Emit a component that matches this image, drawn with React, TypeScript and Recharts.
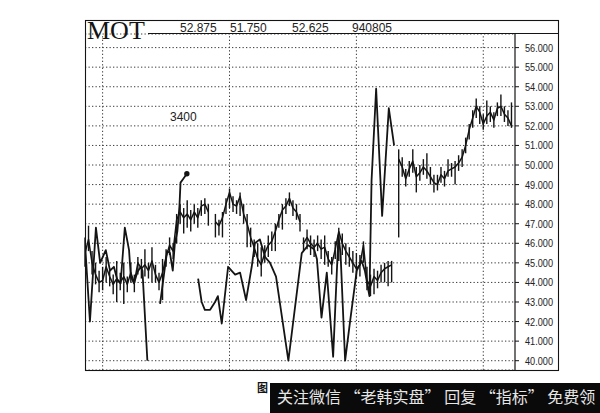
import React from 'react';
import { LineChart, Line, XAxis, YAxis, CartesianGrid, ReferenceLine, ErrorBar } from 'recharts';

// price axis
const Y_TICKS = [40, 41, 42, 43, 44, 45, 46, 47, 48, 49, 50, 51, 52, 53, 54, 55, 56];
// dotted vertical grid (trading day index)
const GRID_DAYS = [5, 41, 77, 113];

const headerValues = ['52.875', '51.750', '52.625', '940805'];

// smooth overlay lines (day, price)
const firstLineDays = [0, 1.4, 3.1, 4.3, 5.9, 7.1, 8.2, 9.2, 10.1, 11.3, 12.5, 13.0, 13.9, 14.8, 15.8, 16.3, 17.7];
const firstLineVals = [46.0, 42.0, 46.8, 45.0, 45.65, 44.6, 44.8, 44.1, 43.95, 46.8, 45.65, 44.3, 43.95, 44.5, 44.8, 44.6, 40.0];

const dotLineDays = [21.3, 22.4, 23.3, 24.1, 24.9, 25.5, 26.2, 26.8, 27.1, 27.9, 28.9];
const dotLineVals = [42.9, 44.4, 45.6, 45.5, 44.6, 46.0, 46.6, 47.9, 49.1, 49.3, 49.55];

const longLineDays = [32.1, 33.1, 34.0, 35.5, 36.9, 37.7, 38.8, 40.6, 42.6, 44.0, 45.7, 47.3, 48.2, 49.6, 51.1, 52.5, 54.2, 57.7,
  61.5, 63.3, 65.0, 65.8, 67.1, 68.6, 70.4, 71.9, 72.5, 73.8, 75.2, 77.1, 78.5, 79.4, 80.7, 81.3, 82.6, 84.3, 86.2, 87.7];
const longLineVals = [44.2, 43.0, 42.6, 42.6, 43.0, 43.3, 41.9, 44.8, 44.4, 44.5, 43.1, 44.8, 46.0, 46.2, 45.3, 45.0, 44.3, 40.0,
  45.5, 45.9, 45.7, 45.2, 42.2, 44.5, 40.2, 46.4, 45.5, 40.0, 42.0, 44.6, 45.1, 44.6, 43.3, 49.2, 53.9, 47.4, 52.9, 51.0];

// daily bars: close / high / low, starting at a day index
const barsAStart = 0;
const barsAClose = [45.5, 46.2, 45.0, 44.4, 44.0, 44.1, 44.8, 44.3, 43.9, 44.2, 44.0, 44.3, 43.9, 44.5, 44.0, 45.0, 44.7, 44.9, 44.6, 45.1, 44.4, 44.0, 44.5, 45.3, 45.9, 45.6, 47.2, 47.6, 47.3, 47.5, 47.2, 47.6, 47.3, 47.9, 48.0, 47.6];
const barsAHigh = [46.3, 46.9, 45.6, 45.0, 44.6, 44.8, 45.3, 44.7, 44.4, 45.1, 44.5, 45.0, 44.3, 45.0, 44.4, 45.3, 45.2, 45.7, 45.0, 45.8, 44.9, 44.5, 45.2, 45.7, 46.3, 46.0, 47.5, 48.0, 47.8, 48.2, 47.7, 48.0, 47.8, 48.2, 48.3, 48.0];
const barsALow = [44.8, 45.6, 44.4, 43.9, 43.5, 43.6, 44.0, 43.8, 43.4, 43.0, 43.6, 42.9, 43.5, 44.0, 43.5, 44.4, 44.2, 44.3, 44.2, 44.0, 44.0, 43.6, 43.1, 44.8, 45.4, 45.2, 46.0, 47.0, 46.5, 46.8, 46.6, 47.0, 46.8, 47.4, 47.5, 46.9];

const barsBStart = 37;
const barsBClose = [47.1, 46.9, 47.3, 48.0, 48.6, 48.0, 47.9, 48.4, 47.5, 47.0, 46.3, 45.8, 45.2, 44.9, 45.5, 45.9, 46.1, 46.6, 47.2, 47.7, 47.9, 48.3, 47.8, 47.6, 47.1];
const barsBHigh = [47.5, 47.2, 47.6, 48.3, 48.8, 48.4, 48.2, 48.6, 48.0, 47.5, 46.8, 46.2, 46.0, 45.8, 45.9, 46.4, 46.6, 47.0, 47.5, 48.0, 48.3, 48.6, 48.2, 48.0, 47.5];
const barsBLow = [46.3, 46.4, 46.3, 47.5, 47.8, 47.6, 47.5, 47.4, 47.0, 45.8, 45.8, 45.3, 44.8, 44.3, 45.0, 45.3, 45.6, 45.6, 46.8, 46.7, 47.5, 47.9, 47.4, 47.2, 46.6];

const barsCStart = 62;
const barsCClose = [46.0, 46.3, 46.0, 45.8, 46.0, 45.7, 45.8, 45.2, 44.9, 45.7, 46.6, 46.0, 45.6, 45.3, 45.0, 44.7, 44.9, 45.9, 44.1, 43.8, 44.3, 44.1, 44.5, 44.7, 44.8, 44.9];
const barsCHigh = [46.3, 46.7, 46.4, 46.2, 46.4, 46.2, 46.4, 45.6, 45.3, 46.1, 46.8, 46.5, 46.0, 45.8, 45.6, 45.5, 45.4, 46.1, 44.8, 44.4, 44.7, 44.6, 44.9, 45.0, 45.1, 45.1];
const barsCLow = [45.6, 45.7, 45.4, 45.3, 45.6, 45.2, 44.9, 44.8, 44.4, 45.2, 45.1, 45.4, 44.9, 44.8, 44.5, 44.2, 44.3, 45.0, 43.6, 43.3, 43.4, 43.7, 44.0, 44.0, 43.8, 44.0];

const barsDStart = 89;
const barsDClose = [50.3, 49.9, 49.3, 49.8, 50.2, 49.4, 49.6, 49.9, 49.7, 49.4, 49.1, 49.0, 49.5, 49.3, 49.7, 49.8, 49.9, 50.1, 50.4, 51.0, 51.8, 52.4, 53.0, 52.7, 52.1, 52.5, 52.7, 52.3, 52.9, 53.0, 52.6, 52.4, 52.0];
const barsDHigh = [50.8, 50.4, 49.8, 50.2, 50.8, 49.9, 50.0, 50.3, 50.6, 49.9, 49.5, 49.5, 49.9, 49.7, 50.3, 50.1, 50.2, 50.5, 50.8, 51.4, 52.1, 52.8, 53.4, 53.0, 52.6, 53.3, 53.0, 52.7, 53.2, 53.6, 53.0, 52.8, 53.2];
const barsDLow = [46.3, 49.4, 48.9, 49.4, 49.6, 48.6, 49.2, 49.5, 49.3, 49.0, 48.6, 48.7, 49.1, 48.9, 49.4, 49.4, 49.0, 49.7, 49.9, 50.6, 51.3, 51.9, 52.4, 52.1, 51.8, 52.1, 52.2, 51.9, 52.5, 52.5, 52.2, 52.0, 51.9];

const toPoints = (days: number[], vals: number[]) => days.map((x, i) => ({ x, y: vals[i] }));
const toBars = (start: number, close: number[], high: number[], low: number[]) =>
  close.map((c, i) => ({ x: start + i, y: c, err: [+(c - low[i]).toFixed(2), +(high[i] - c).toFixed(2)] }));

const INK = '#141414';
const SANS = '"Liberation Sans", Arial, sans-serif';

const PriceTick = (props: any) => {
  const { x, y, payload } = props;
  return (
    <text x={x} y={y} dy={4} textAnchor="start" fontSize={11} fontFamily={SANS} fill="#222"
      textLength={28} lengthAdjust="spacingAndGlyphs">
      {Number(payload.value).toFixed(3)}
    </text>
  );
};

const barSets = [
  toBars(barsAStart, barsAClose, barsAHigh, barsALow),
  toBars(barsBStart, barsBClose, barsBHigh, barsBLow),
  toBars(barsCStart, barsCClose, barsCHigh, barsCLow),
  toBars(barsDStart, barsDClose, barsDHigh, barsDLow),
];

export default function App() {
  const lastDot = dotLineDays.length - 1;
  return (
    <div style={{ position: 'fixed', left: 0, top: 0, width: 600, height: 413, background: '#fff', overflow: 'hidden' }}>
      <div style={{ position: 'absolute', left: 0, top: 0 }}>
        <LineChart width={600} height={413} margin={{ top: 34, right: 42, bottom: 43, left: 85 }}>
          <CartesianGrid vertical={false} stroke="#3a3a3a" strokeDasharray="1.3 2.2" />
          <XAxis type="number" dataKey="x" domain={[0, 122]} allowDataOverflow hide />
          <YAxis orientation="right" type="number" domain={[39.525, 56.695]} allowDataOverflow ticks={Y_TICKS}
            interval={0} width={43} tickSize={4} tickMargin={6} tick={<PriceTick />}
            axisLine={{ stroke: INK, strokeWidth: 1.2 }} tickLine={{ stroke: INK }} />
          {GRID_DAYS.map((d) => (
            <ReferenceLine key={d} x={d} stroke="#3a3a3a" strokeDasharray="1.3 2.2" />
          ))}
          {barSets.map((set, i) => (
            <Line key={'bars' + i} data={set} dataKey="y" type="linear" stroke={INK} strokeWidth={1.5}
              dot={false} isAnimationActive={false} strokeLinejoin="round">
              <ErrorBar dataKey="err" direction="y" width={0} stroke={INK} strokeWidth={1.4} isAnimationActive={false} />
            </Line>
          ))}
          <Line data={toPoints(firstLineDays, firstLineVals)} dataKey="y" type="linear" stroke={INK} strokeWidth={1.8}
            dot={false} isAnimationActive={false} strokeLinejoin="round" />
          <Line data={toPoints(longLineDays, longLineVals)} dataKey="y" type="linear" stroke={INK} strokeWidth={1.8}
            dot={false} isAnimationActive={false} strokeLinejoin="round" />
          <Line data={toPoints(dotLineDays, dotLineVals)} dataKey="y" type="linear" stroke={INK} strokeWidth={1.8}
            isAnimationActive={false} strokeLinejoin="round"
            dot={(p: any) => p.index === lastDot
              ? <circle key="end" cx={p.cx} cy={p.cy} r={2.7} fill={INK} />
              : <g key={'d' + p.index} />} />
        </LineChart>
      </div>
      <svg width={600} height={413} style={{ position: 'absolute', left: 0, top: 0, pointerEvents: 'none' }}>
        <rect x={85.5} y={20.5} width={473} height={350} fill="none" stroke={INK} strokeWidth={1.1} />
        <line x1={148} y1={33.5} x2={558} y2={33.5} stroke={INK} strokeWidth={1.2} />
        <text x={87} y={38.5} fontSize={26} fontFamily='"Liberation Serif", "Times New Roman", serif' fill={INK}>MOT</text>
        {headerValues.map((v, i) => (
          <text key={v} x={[180, 230, 292, 352][i]} y={32} fontSize={12} fontFamily={SANS} fill="#222">{v}</text>
        ))}
        <text x={170} y={121} fontSize={12} fontFamily={SANS} fill="#222">3400</text>
        <text x={257} y={392} fontSize={11} fontWeight="bold" fontFamily='"Noto Sans CJK SC", sans-serif' fill={INK}>图</text>
        <rect x={270} y={383} width={330} height={30} fill="#0a0a0a" />
        <text x={277} y={403} fontSize={16} fontFamily='"Noto Sans CJK SC", sans-serif' fill="#e6e6e6">
          关注微信 “老韩实盘” 回复 “指标” 免费领
        </text>
      </svg>
    </div>
  );
}
